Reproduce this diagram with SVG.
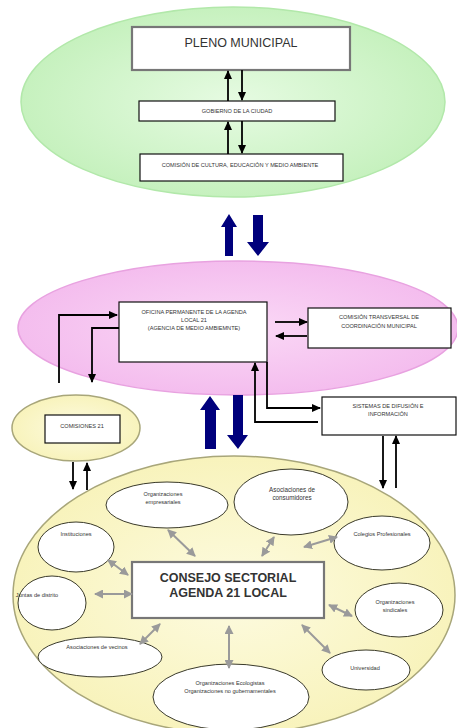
<svg xmlns="http://www.w3.org/2000/svg" width="457" height="728" viewBox="0 0 457 728">
<style>
.box{fill:#fff;stroke:#111;stroke-width:1.2}
.bigbox{fill:#fff;stroke:#777;stroke-width:2.2}
.t{font-family:"Liberation Sans",Arial,sans-serif;fill:#333;text-anchor:middle}
.s{font-size:5.6px}
.w{fill:#fff;stroke:#3a3a2a;stroke-width:1}
.blk{fill:none;stroke:#000;stroke-width:1.8;marker-end:url(#ah)}
.gr{fill:none;stroke:#9a9a9a;stroke-width:2;marker-start:url(#gh);marker-end:url(#gh)}
.blue{fill:#00007c}
</style>
<defs>
<marker id="ah" markerUnits="userSpaceOnUse" markerWidth="9" markerHeight="8" refX="8" refY="4" orient="auto"><path d="M0,0 L9,4 L0,8 z" fill="#000"/></marker>
<marker id="gh" markerUnits="userSpaceOnUse" markerWidth="9" markerHeight="9" refX="8" refY="4.5" orient="auto-start-reverse"><path d="M0,0 L9,4.5 L0,9 z" fill="#9a9a9a"/></marker>
<radialGradient id="gg" cx="0.5" cy="0.5" r="0.5"><stop offset="0" stop-color="#e6fbe2"/><stop offset="1" stop-color="#c6f1be"/></radialGradient>
<radialGradient id="pg" cx="0.5" cy="0.5" r="0.5"><stop offset="0" stop-color="#fad8f6"/><stop offset="1" stop-color="#f4bdee"/></radialGradient>
<radialGradient id="yg" cx="0.5" cy="0.5" r="0.5"><stop offset="0" stop-color="#fdfbe0"/><stop offset="1" stop-color="#f8f3bc"/></radialGradient>
</defs>

<g id="green-area"><ellipse cx="233" cy="102" rx="212" ry="95" fill="url(#gg)" stroke="#b2e8aa" stroke-width="1.5"/></g>
<g id="pink-area"><ellipse cx="238" cy="328" rx="220" ry="67" fill="url(#pg)" stroke="#e8a2e0" stroke-width="1.5"/></g>
<g id="comisiones-area"><ellipse cx="76" cy="428" rx="64" ry="33" fill="url(#yg)" stroke="#a8a67a" stroke-width="1.5"/></g>
<g id="consejo-area"><ellipse cx="234" cy="595" rx="221" ry="139" fill="url(#yg)" stroke="#a8a67a" stroke-width="1.5"/></g>

<g id="pleno"><rect class="bigbox" x="132" y="27" width="218" height="43"/><text class="t" x="241" y="47" font-size="12.5" fill="#222">PLENO MUNICIPAL</text></g>
<g id="gobierno"><rect class="box" x="139" y="101" width="196" height="20"/><text class="t s" x="237" y="113">GOBIERNO DE LA CIUDAD</text></g>
<g id="comision-cultura"><rect class="box" x="140" y="154" width="203" height="27"/><text class="t s" x="240" y="167">COMISIÓN DE CULTURA, EDUCACIÓN Y MEDIO AMBIENTE</text></g>

<g id="oficina"><rect class="box" x="119" y="302" width="148" height="60"/><text class="t s" x="194" y="314">OFICINA PERMANENTE DE LA AGENDA</text><text class="t s" x="194" y="322">LOCAL 21</text><text class="t s" x="194" y="330">(AGENCIA DE MEDIO AMBIEMNTE)</text></g>
<g id="comision-transversal"><rect class="box" x="308" y="308" width="143" height="40"/><text class="t s" x="379" y="319">COMISIÓN TRANSVERSAL DE</text><text class="t s" x="379" y="328">COORDINACIÓN MUNICIPAL</text></g>
<g id="sistemas"><rect class="box" x="322" y="397" width="134" height="38"/><text class="t s" x="388" y="408">SISTEMAS DE DIFUSIÓN E</text><text class="t s" x="388" y="416">INFORMACIÓN</text></g>
<g id="comisiones21"><rect class="box" x="45" y="415" width="75" height="28"/><text class="t s" x="82" y="428">COMISIONES 21</text></g>

<g id="consejo"><rect class="bigbox" x="132" y="562" width="192" height="56"/><text class="t" x="228" y="582" font-size="12.5" font-weight="bold" fill="#222">CONSEJO SECTORIAL</text><text class="t" x="228" y="597" font-size="12.5" font-weight="bold" fill="#222">AGENDA 21 LOCAL</text></g>

<g id="org-empresariales"><ellipse class="w" cx="167" cy="505" rx="61" ry="23"/><text class="t s" x="163" y="496">Organizaciones</text><text class="t s" x="163" y="504">empresariales</text></g>
<g id="asoc-consumidores"><ellipse class="w" cx="291" cy="502" rx="57" ry="33"/><text class="t" font-size="6.3" x="292" y="492">Asociaciones de</text><text class="t" font-size="6.3" x="292" y="500">consumidores</text></g>
<g id="instituciones"><ellipse class="w" cx="76" cy="547" rx="38" ry="25"/><text class="t s" x="76" y="536">Instituciones</text></g>
<g id="colegios"><ellipse class="w" cx="382" cy="543" rx="48" ry="27"/><text class="t s" x="382" y="536">Colegios Profesionales</text></g>
<g id="juntas"><ellipse class="w" cx="52" cy="603" rx="34" ry="27"/><text class="t s" x="37" y="597">Juntas de distrito</text></g>
<g id="sindicales"><ellipse class="w" cx="399" cy="610" rx="44" ry="27"/><text class="t s" x="395" y="604">Organizaciones</text><text class="t s" x="395" y="612">sindicales</text></g>
<g id="vecinos"><ellipse class="w" cx="100" cy="657" rx="62" ry="20"/><text class="t s" x="97" y="649">Asociaciones de vecinos</text></g>
<g id="universidad"><ellipse class="w" cx="366" cy="670" rx="44" ry="20"/><text class="t s" x="365" y="670">Universidad</text></g>
<g id="ecologistas"><ellipse class="w" cx="231" cy="697" rx="78" ry="33"/><text class="t s" x="230" y="685">Organizaciones Ecologistas</text><text class="t s" x="230" y="693">Organizaciones no gubernamentales</text></g>

<g id="connectors">
<path class="blk" d="M228,101 V71"/>
<path class="blk" d="M242,70 V100"/>
<path class="blk" d="M228,154 V122"/>
<path class="blk" d="M242,121 V153"/>
<polygon class="blue" points="229,214 237,227 233,227 233,256 225,256 225,227 221,227"/>
<polygon class="blue" points="253,215 263,215 263,242 269,242 258,256 247,242 253,242"/>
<polygon class="blue" points="210,396 220,410 216,410 216,449 205,449 205,410 200,410"/>
<polygon class="blue" points="233,395 243,395 243,435 248,435 238,449 227,435 233,435"/>
<path class="blk" d="M59,383 V315 H117"/>
<path class="blk" d="M119,328 H92 V382"/>
<path class="blk" d="M275,322 H307"/>
<path class="blk" d="M307,336 H276"/>
<path class="blk" d="M267,362 V408 H320"/>
<path class="blk" d="M318,422 H255 V363"/>
<path class="blk" d="M383,436 V488"/>
<path class="blk" d="M396,488 V436"/>
<path class="blk" d="M73,462 V489"/>
<path class="blk" d="M87,490 V463"/>
<path class="gr" d="M168,530 L195,556"/>
<path class="gr" d="M274,537 L262,556"/>
<path class="gr" d="M337,537 L304,547"/>
<path class="gr" d="M108,560 L128,575"/>
<path class="gr" d="M95,594 L132,594"/>
<path class="gr" d="M352,616 L329,605"/>
<path class="gr" d="M140,644 L160,624"/>
<path class="gr" d="M229,626 L229,668"/>
<path class="gr" d="M302,625 L330,653"/>
</g>
</svg>
